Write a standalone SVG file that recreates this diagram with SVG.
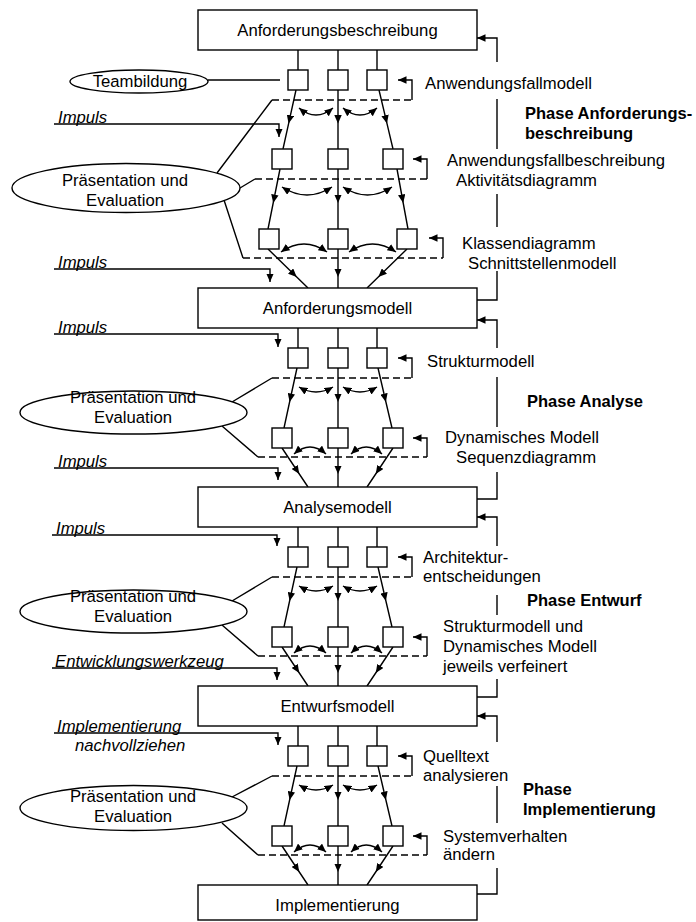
<svg xmlns="http://www.w3.org/2000/svg" width="696" height="922" viewBox="0 0 696 922">
<defs>
<marker id="ah" viewBox="0 0 8 7" refX="8" refY="3.5" markerWidth="8.5" markerHeight="7.5" markerUnits="userSpaceOnUse" orient="auto-start-reverse"><path d="M0,0 L8,3.5 L0,7 z" fill="#000"/></marker>
</defs>
<style>
.n{fill:#fff;stroke:#000;stroke-width:1.4}
.l{fill:none;stroke:#000;stroke-width:1.4}
.d{fill:none;stroke:#000;stroke-width:1.4;stroke-dasharray:7 4}
.a{marker-end:url(#ah)}
.m{marker-mid:url(#ah)}
.c{marker-start:url(#ah);marker-end:url(#ah)}
text{font-family:"Liberation Sans",Arial,sans-serif;font-size:16.7px;fill:#000}
.i{font-style:italic}
.b{font-weight:bold;font-size:16.5px}
.mid{text-anchor:middle}
</style>
<rect width="696" height="922" fill="#fff"/>

<g id="connectors">
<!-- Phase 1 -->
<path class="l" d="M298,50V70M338,50V70M377,50V70"/>
<path class="l" d="M208,80H280"/>
<path class="d" d="M272,100H412"/>
<path class="l a" d="M412,100V80H398"/>
<path class="l c" d="M299,108Q316,122 333,108"/>
<path class="l c" d="M343,108Q360,122 377,108"/>
<path class="l m" d="M296,90L288.6,123.6L283,149"/>
<path class="l m" d="M338,90L338,123.6L338,149"/>
<path class="l m" d="M379,90L387,123.6L393,149"/>
<path class="d" d="M255,179H427"/>
<path class="l a" d="M427,179V159H413"/>
<path class="l c" d="M282,187Q307,203 332,187"/>
<path class="l c" d="M343,187Q367.5,203 392,187"/>
<path class="l m" d="M280,169L273.2,203L268,229"/>
<path class="l m" d="M338,169L338,203L338,229"/>
<path class="l m" d="M397,169L403.2,203L408,229"/>
<path class="d" d="M243,258H443"/>
<path class="l a" d="M443,258V238H429"/>
<path class="l c" d="M281,252Q304,236 327,252"/>
<path class="l c" d="M349,252Q372.5,236 396,252"/>
<path class="l m" d="M268,249L296.7,277L308,288"/>
<path class="l m" d="M338,249L338,277L338,288"/>
<path class="l m" d="M407,249L378.3,277L367,288"/>
<path class="l a" d="M54,124H279V137"/>
<path class="l a" d="M54,269H270V282"/>
<path class="l" d="M217,173L272,100M240,188L255,179M224,200L243,258"/>
<path class="l" d="M477,300H497V271M497,227V194M497,149V99"/>
<path class="l a" d="M497,62V38H477"/>

<!-- Phase 2 -->
<g id="ph2-conn">
<path class="l" d="M298,328V348M338,328V348M377,328V348"/>
<path class="d" d="M272,378H412"/>
<path class="l a" d="M412,378V358H398"/>
<path class="l c" d="M299,387Q316,397 333,387"/>
<path class="l c" d="M343,387Q360,397 377,387"/>
<path class="l m" d="M297,368L289.6,402L284,428"/>
<path class="l m" d="M338,368L338,402L338,428"/>
<path class="l m" d="M378,368L385.9,402L392,428"/>
<path class="d" d="M258,457H427"/>
<path class="l a" d="M427,457V438H413"/>
<path class="l c" d="M294,454Q310,440 326,454"/>
<path class="l c" d="M351,454Q366,440 382,454"/>
<path class="l m" d="M282,448L299.3,474L308,487"/>
<path class="l m" d="M338,448L338,474L338,487"/>
<path class="l m" d="M393,448L375.7,474L367,487"/>
</g>
<path class="l a" d="M54,334H278V347"/>
<path class="l a" d="M54,468H278V480"/>
<path class="l" d="M232,402L272,378M222,426L258,457"/>
<path class="l" d="M477,499H497V472M497,427V377"/>
<path class="l a" d="M497,348V320H477"/>

<!-- Phase 3 -->
<use href="#ph2-conn" transform="translate(0,199)"/>
<path class="l a" d="M52,535H277V546"/>
<path class="l a" d="M52,668H277V680"/>
<path class="l" d="M232,601L272,577M222,625L258,656"/>
<path class="l" d="M477,697H497V679M497,615V595"/>
<path class="l a" d="M497,546V517H477"/>

<!-- Phase 4 -->
<use href="#ph2-conn" transform="translate(0,398)"/>
<path class="l a" d="M54,733H278V745"/>
<path class="l" d="M232,797L272,776M222,823L258,855"/>
<path class="l" d="M477,894H497V868M497,823V786"/>
<path class="l a" d="M497,742V716H477"/>
</g>

<!-- Main nodes -->
<g id="n-anforderungsbeschreibung"><rect class="n" x="198" y="10" width="279" height="40"/><text class="mid" x="337.5" y="36">Anforderungsbeschreibung</text></g>
<g id="n-anforderungsmodell"><rect class="n" x="198" y="288" width="279" height="40"/><text class="mid" x="337.5" y="314">Anforderungsmodell</text></g>
<g id="n-analysemodell"><rect class="n" x="198" y="487" width="279" height="40"/><text class="mid" x="337.5" y="513">Analysemodell</text></g>
<g id="n-entwurfsmodell"><rect class="n" x="198" y="686" width="279" height="40"/><text class="mid" x="337.5" y="712">Entwurfsmodell</text></g>
<g id="n-implementierung"><rect class="n" x="198" y="885" width="279" height="35"/><text class="mid" x="337.5" y="911">Implementierung</text></g>

<!-- Small step boxes -->
<g id="p1-r1"><rect class="n" x="288" y="70" width="20" height="20"/><rect class="n" x="328" y="70" width="20" height="20"/><rect class="n" x="367" y="70" width="20" height="20"/></g>
<g id="p1-r2"><rect class="n" x="272" y="149" width="20" height="20"/><rect class="n" x="328" y="149" width="20" height="20"/><rect class="n" x="383" y="149" width="20" height="20"/></g>
<g id="p1-r3"><rect class="n" x="259" y="229" width="20" height="20"/><rect class="n" x="328" y="229" width="20" height="20"/><rect class="n" x="397" y="229" width="20" height="20"/></g>
<g id="p2-rows"><rect class="n" x="288" y="348" width="20" height="20"/><rect class="n" x="328" y="348" width="20" height="20"/><rect class="n" x="367" y="348" width="20" height="20"/><rect class="n" x="272" y="428" width="20" height="20"/><rect class="n" x="328" y="428" width="20" height="20"/><rect class="n" x="383" y="428" width="20" height="20"/></g>
<g id="p3-rows"><use href="#p2-rows" transform="translate(0,199)"/></g>
<g id="p4-rows"><use href="#p2-rows" transform="translate(0,398)"/></g>

<!-- Ellipse nodes -->
<g id="n-teambildung"><ellipse class="n" cx="139" cy="81.5" rx="69" ry="11.5"/><text class="mid" x="140" y="87">Teambildung</text></g>
<g id="n-praes1"><ellipse class="n" cx="126" cy="188" rx="114" ry="24.5"/><text class="mid" x="125" y="186">Präsentation und</text><text class="mid" x="125" y="206">Evaluation</text></g>
<g id="n-praes2"><ellipse class="n" cx="133.5" cy="412.5" rx="113.5" ry="21.5"/><text class="mid" x="133" y="403">Präsentation und</text><text class="mid" x="133" y="423">Evaluation</text></g>
<g id="n-praes3"><ellipse class="n" cx="133.5" cy="611.5" rx="113.5" ry="21.5"/><text class="mid" x="133" y="602">Präsentation und</text><text class="mid" x="133" y="622">Evaluation</text></g>
<g id="n-praes4"><ellipse class="n" cx="133.5" cy="808" rx="113.5" ry="22.5"/><text class="mid" x="133" y="802">Präsentation und</text><text class="mid" x="133" y="822">Evaluation</text></g>

<!-- Left input labels -->
<g id="lbl-left">
<text class="i" x="58" y="123">Impuls</text>
<text class="i" x="58" y="268">Impuls</text>
<text class="i" x="58" y="333">Impuls</text>
<text class="i" x="58" y="467">Impuls</text>
<text class="i" x="56" y="534">Impuls</text>
<text class="i" x="55" y="667">Entwicklungswerkzeug</text>
<text class="i" x="57" y="732">Implementierung</text>
<text class="i" x="75" y="751">nachvollziehen</text>
</g>

<!-- Right labels -->
<g id="lbl-right">
<text x="425" y="89">Anwendungsfallmodell</text>
<text x="447" y="166">Anwendungsfallbeschreibung</text>
<text x="456" y="186">Aktivitätsdiagramm</text>
<text x="462" y="249">Klassendiagramm</text>
<text x="468" y="269">Schnittstellenmodell</text>
<text x="427" y="367">Strukturmodell</text>
<text x="445" y="443">Dynamisches Modell</text>
<text x="456" y="463">Sequenzdiagramm</text>
<text x="423" y="563">Architektur-</text>
<text x="423" y="582">entscheidungen</text>
<text x="443" y="632">Strukturmodell und</text>
<text x="443" y="652">Dynamisches Modell</text>
<text x="443" y="672">jeweils verfeinert</text>
<text x="423" y="762">Quelltext</text>
<text x="423" y="781">analysieren</text>
<text x="443" y="842">Systemverhalten</text>
<text x="443" y="860">ändern</text>
</g>

<g id="phases">
<text class="b" x="525" y="119">Phase Anforderungs-</text>
<text class="b" x="525" y="139">beschreibung</text>
<text class="b" x="527" y="407">Phase Analyse</text>
<text class="b" x="527" y="606">Phase Entwurf</text>
<text class="b" x="523" y="795">Phase</text>
<text class="b" x="523" y="815">Implementierung</text>
</g>
</svg>
